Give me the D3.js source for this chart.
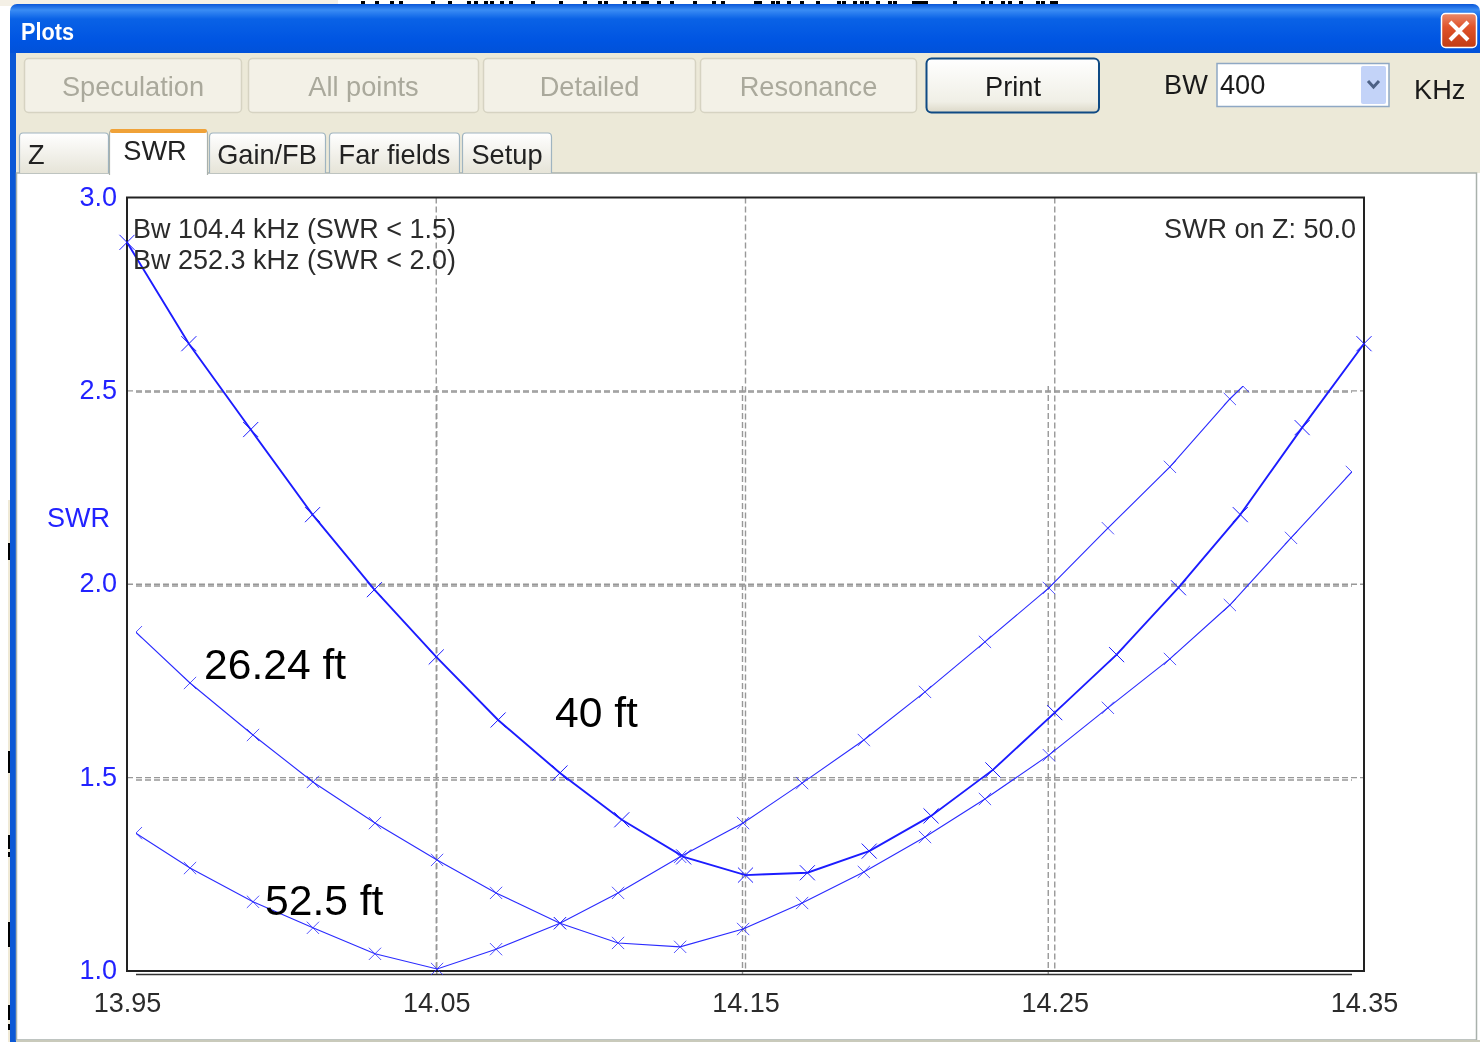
<!DOCTYPE html>
<html><head><meta charset="utf-8">
<script src="https://cdn.jsdelivr.net/npm/d3@7"></script>
<style>
html,body{margin:0;padding:0;background:#fff;overflow:hidden}
svg{display:block;filter:blur(0.5px)}
text{font-family:"Liberation Sans",Arial,sans-serif}
</style></head><body>
<script>
// ---------- data ----------
const xTicks = [13.95, 14.05, 14.15, 14.25, 14.35];
const yTicks = [1.0, 1.5, 2.0, 2.5, 3.0];
const freq40 = [13.95,13.97,13.99,14.01,14.03,14.05,14.07,14.09,14.11,14.13,14.15,14.17,14.19,14.21,14.23,14.25,14.27,14.29,14.31,14.33,14.35];
const swr40 = [2.884,2.622,2.400,2.180,1.986,1.812,1.649,1.512,1.391,1.295,1.248,1.254,1.310,1.401,1.520,1.668,1.818,1.991,2.180,2.405,2.622];
const freq26 = [13.9516,13.9693,13.9899,14.0095,14.0298,14.0501,14.0694,14.0903,14.1093,14.1296,14.1502,14.1695,14.1897,14.2097,14.2293,14.2502,14.2695,14.2898,14.3094,14.3294,14.3493];
const swr26 = [1.881,1.750,1.616,1.495,1.389,1.294,1.209,1.131,1.080,1.070,1.116,1.183,1.263,1.353,1.451,1.564,1.686,1.812,1.951,2.124,2.294];
const freq52 = [13.9516,13.9693,13.9899,14.0095,14.0298,14.0501,14.0694,14.0903,14.1093,14.1296,14.1502,14.1695,14.1897,14.2097,14.2293,14.2502,14.2695,14.2898,14.3094,14.3137];
const swr52 = [1.363,1.273,1.186,1.119,1.052,1.013,1.064,1.131,1.209,1.302,1.389,1.492,1.603,1.727,1.856,1.995,2.149,2.307,2.482,2.515];
const noteLines = ["Bw 104.4 kHz (SWR < 1.5)", "Bw 252.3 kHz (SWR < 2.0)"];
const zNote = "SWR on Z: 50.0";
const disabledButtons = ["Speculation", "All points", "Detailed", "Resonance"];
const tabNames = ["Z", "SWR", "Gain/FB", "Far fields", "Setup"];

// ---------- layout ----------
const W = 1480, H = 1042;
const svg = d3.select("body").append("svg").attr("width", W).attr("height", H);
const defs = svg.append("defs");
function grad(id, stops){
  const g = defs.append("linearGradient").attr("id", id).attr("x1",0).attr("x2",0).attr("y1",0).attr("y2",1);
  stops.forEach(s => g.append("stop").attr("offset", s[0]).attr("stop-color", s[1]));
}
grad("title", [[0,"#0a57d8"],[0.1,"#3a8cf4"],[0.25,"#0a62e6"],[0.6,"#0055e2"],[0.9,"#0150d6"],[1,"#0344b8"]]);
grad("tab", [[0,"#ffffff"],[1,"#e6e4d8"]]);
grad("print", [[0,"#ffffff"],[0.8,"#f0efe6"],[1,"#dcd8c8"]]);
grad("close", [[0,"#e98a6c"],[0.4,"#e0532a"],[1,"#c23c14"]]);
defs.append("clipPath").attr("id","ghostClip").append("rect")
  .attr("x",136).attr("y",386).attr("width",1216).attr("height",589);

// scraps of the window behind this one, at the picture's top and left edges
const topScraps = [361,375,390,399,431,448,467,474,484,490,500,509,531,559,583,598,604,623,632,641,645,657,670,693,712,721,754,758,771,776,787,800,816,837,842,853,860,865,876,888,893,953,981,989,1001,1008,1019,1036,1041,1050,1054];
const leftScraps = [[543,17],[751,22],[835,14],[852,5],[922,19],[940,7],[1005,15],[1024,6]];
svg.append("rect").attr("x",0).attr("y",0).attr("width",338).attr("height",6).attr("fill","#f4f0e6");
svg.append("rect").attr("x",8).attr("y",500).attr("width",2).attr("height",542).attr("fill","#efe9d6");
svg.selectAll("rect.top").data(topScraps).join("rect").attr("class","top")
  .attr("x",d=>d).attr("y",1).attr("width",4).attr("height",3).attr("fill","#000");
svg.append("rect").attr("x",912).attr("y",1).attr("width",16).attr("height",3).attr("fill","#000");
svg.selectAll("rect.left").data(leftScraps).join("rect").attr("class","left")
  .attr("x",8).attr("y",d=>d[0]).attr("width",2).attr("height",d=>d[1]).attr("fill","#000");

// window chrome
svg.append("rect").attr("x",10).attr("y",4).attr("width",1470).attr("height",60).attr("rx",7).attr("fill","url(#title)");
svg.append("rect").attr("x",10).attr("y",53).attr("width",7).attr("height",989).attr("fill","#0b58d6");
svg.append("rect").attr("x",16).attr("y",53).attr("width",1464).attr("height",120).attr("fill","#ece9d8");
svg.append("rect").attr("x",16.5).attr("y",173).attr("width",1460).attr("height",867).attr("fill","#fff").attr("stroke","#a9b1ac").attr("stroke-width",1.5);
svg.append("rect").attr("x",16).attr("y",1040).attr("width",1464).attr("height",2).attr("fill","#c9cabb");
svg.append("text").attr("x",21).attr("y",40).attr("font-size",23).attr("font-weight","bold").attr("fill","#fff").attr("textLength",53).attr("lengthAdjust","spacingAndGlyphs").text("Plots");
svg.append("rect").attr("x",1441.5).attr("y",13.5).attr("width",35).attr("height",34).attr("rx",4).attr("fill","url(#close)").attr("stroke","#fff").attr("stroke-width",1.5);
svg.append("path").attr("d","M1450 22L1468 40M1468 22L1450 40").attr("stroke","#fff").attr("stroke-width",4).attr("fill","none");

// buttons
const btnBoxes = [[24,242],[248,479],[483,696],[700,917]];
disabledButtons.forEach((t,i)=>{
  const [a,b] = btnBoxes[i];
  svg.append("rect").attr("x",a+.5).attr("y",58.5).attr("width",b-a-1).attr("height",54).attr("rx",4).attr("fill","#f3f1e7").attr("stroke","#d6d3c2").attr("stroke-width",1.5);
  svg.append("text").attr("x",(a+b)/2).attr("y",95.5).attr("text-anchor","middle").attr("font-size",27.2).attr("fill","#aaa99c").text(t);
});
svg.append("rect").attr("x",926.5).attr("y",58.5).attr("width",172.5).attr("height",54).attr("rx",5).attr("fill","url(#print)").attr("stroke","#0f4a84").attr("stroke-width",2);
svg.append("text").attr("x",1013).attr("y",95.5).attr("text-anchor","middle").attr("font-size",27.2).attr("fill","#1a1a1a").text("Print");
svg.append("text").attr("x",1164).attr("y",93.5).attr("font-size",27.2).attr("fill","#1a1a1a").text("BW");
svg.append("rect").attr("x",1217).attr("y",63.5).attr("width",172).attr("height",43).attr("fill","#fff").attr("stroke","#8fa8c4").attr("stroke-width",1.5);
svg.append("rect").attr("x",1361).attr("y",66).attr("width",25).attr("height",38).attr("rx",2).attr("fill","#c3d3f8");
svg.append("path").attr("d","M1368 81L1373.5 87L1379 81").attr("stroke","#4d6185").attr("stroke-width",3).attr("fill","none");
svg.append("text").attr("x",1220).attr("y",93.5).attr("font-size",27.2).attr("fill","#1a1a1a").text("400");
svg.append("text").attr("x",1414).attr("y",98.5).attr("font-size",27.2).attr("fill","#1a1a1a").text("KHz");

// tabs
const tabBoxes = [[19,109],[109,208],[209,326],[329,460],[462,552]];
const tabTextX = [28,155,267,394.5,507];
tabNames.forEach((t,i)=>{
  const [a,b] = tabBoxes[i], on = i===1;
  const top = on ? 130 : 133, bot = on ? 175 : 173;
  svg.append("path").attr("d",`M${a+.5} ${bot}V${top+4}Q${a+.5} ${top} ${a+4} ${top}H${b-4}Q${b-.5} ${top} ${b-.5} ${top+4}V${bot}`)
    .attr("fill", on ? "#fff" : "url(#tab)").attr("stroke", on ? "#a9b1ac" : "#9fb4c0").attr("stroke-width",1.2);
  if(on) svg.append("rect").attr("x",a+1).attr("y",129).attr("width",b-a-2).attr("height",4).attr("rx",2).attr("fill","#f0a238");
  svg.append("text").attr("x", tabTextX[i]).attr("y", on ? 160 : 163.5).attr("text-anchor", i===0 ? "start" : "middle").attr("font-size",27.2).attr("fill","#222").text(t);
});

// ---------- scales ----------
const x = d3.scaleLinear().domain([13.95,14.35]).range([127,1364]);
const y = d3.scaleLinear().domain([1,3]).range([971,197.5]);
const xG = d3.scaleLinear().domain([13.95,14.35]).range([131,1354]);
const yG = d3.scaleLinear().domain([1,3]).range([974,198]);

const gridCol = "#989898";
// overlaid plot grid + baseline
const gg = svg.append("g");
gg.selectAll("line.v").data([14.05,14.15,14.25]).join("line").attr("class","v")
  .attr("x1",d=>xG(d)).attr("x2",d=>xG(d)).attr("y1",386).attr("y2",974);
gg.selectAll("line.h").data([1.5,2.0,2.5]).join("line").attr("class","h")
  .attr("y1",d=>yG(d)).attr("y2",d=>yG(d)).attr("x1",136).attr("x2",1352);
gg.selectAll("line").attr("stroke",gridCol).attr("stroke-width",1.4).attr("stroke-dasharray","6 3");
svg.append("line").attr("x1",136).attr("x2",1352).attr("y1",974.5).attr("y2",974.5).attr("stroke","#333").attr("stroke-width",1.5);

// main grid
const mg = svg.append("g");
mg.selectAll("line.v").data([14.05,14.15,14.25]).join("line").attr("class","v")
  .attr("x1",d=>x(d)).attr("x2",d=>x(d)).attr("y1",197.5).attr("y2",971);
mg.selectAll("line.h").data([1.5,2.0,2.5]).join("line").attr("class","h")
  .attr("y1",d=>y(d)).attr("y2",d=>y(d)).attr("x1",127).attr("x2",1364);
mg.selectAll("line").attr("stroke",gridCol).attr("stroke-width",1.4).attr("stroke-dasharray","6 3");

// frame
svg.append("rect").attr("x",127).attr("y",197.5).attr("width",1237).attr("height",773.5).attr("fill","none").attr("stroke","#222").attr("stroke-width",2);

// axes
const axX = svg.append("g").attr("transform","translate(0,971)")
  .call(d3.axisBottom(x).tickValues(xTicks).tickFormat(d3.format(".2f")).tickSize(0).tickPadding(22));
const axY = svg.append("g").attr("transform","translate(127,-1)")
  .call(d3.axisLeft(y).tickValues(yTicks).tickFormat(d3.format(".1f")).tickSize(0).tickPadding(10));
axX.select(".domain").remove(); axY.select(".domain").remove();
axX.selectAll("text").attr("font-size",27).attr("fill","#2b2b2b").style("font-family",'"Liberation Sans"');
axY.selectAll("text").attr("font-size",27).attr("fill","#2222ff").style("font-family",'"Liberation Sans"');
svg.append("text").attr("x",47).attr("y",526.5).attr("font-size",27).attr("fill","#2222ff").text("SWR");

// curves
function curve(fs, vs, sx, sy, w, col, markerSize, markerOpacity, clip){
  const pts = fs.map((f,i)=>[sx(f), sy(vs[i])]);
  const g = svg.append("g");
  if(clip) g.attr("clip-path","url(#ghostClip)");
  g.append("path").attr("d", d3.line()(pts)).attr("fill","none").attr("stroke",col).attr("stroke-width",w);
  g.selectAll("path.m").data(pts).join("path").attr("class","m")
    .attr("transform",d=>`translate(${d[0]},${d[1]})`)
    .attr("d", d3.symbol(d3.symbolTimes, markerSize))
    .attr("fill","none").attr("stroke",col).attr("stroke-width",1).attr("stroke-opacity",markerOpacity);
}
curve(freq26, swr26, xG, yG, 1.1, "#2a2aff", 100, 0.8, true);
curve(freq52, swr52, xG, yG, 1.1, "#2a2aff", 100, 0.8, true);
curve(freq40, swr40, x, y, 1.9, "#1c1cff", 150, 1, false);

// notes
noteLines.forEach((t,i)=>{
  svg.append("text").attr("x",133).attr("y",237.5+i*31).attr("font-size",27).attr("fill","#2b2b2b")
    .attr("textLength",323).attr("lengthAdjust","spacingAndGlyphs").text(t);
});
svg.append("text").attr("x",1356).attr("y",237.5).attr("text-anchor","end").attr("font-size",27).attr("fill","#2b2b2b").text(zNote);

// hand-written annotations
[["26.24 ft",204,679],["40 ft",555,727],["52.5 ft",265,915]].forEach(a=>{
  svg.append("text").attr("x",a[1]).attr("y",a[2]).attr("font-size",42.6).attr("fill","#000").text(a[0]);
});
</script>
</body></html>
